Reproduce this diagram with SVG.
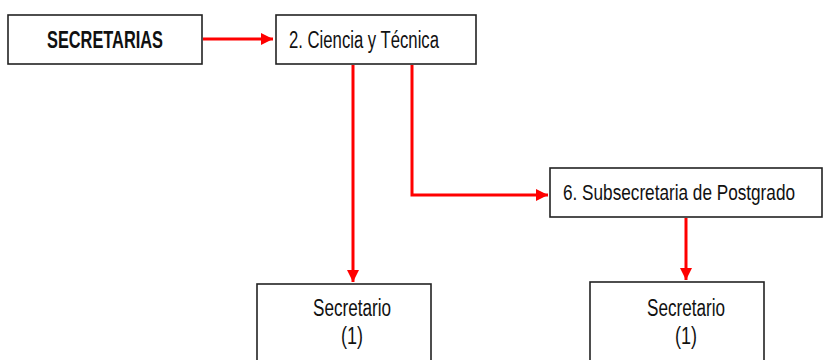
<svg xmlns="http://www.w3.org/2000/svg" width="826" height="360" viewBox="0 0 826 360">
<style>
.box{fill:#fff;stroke:#222;stroke-width:1.6}
.t{font-family:"Liberation Sans Narrow","Liberation Sans",Arial,sans-serif;font-size:23px;fill:#111}
.b{font-weight:bold}
.c{fill:none;stroke:#f00;stroke-width:3}
</style>
<defs>
<marker id="ah" viewBox="0 0 10 10" refX="10" refY="5" markerWidth="4" markerHeight="4" markerUnits="strokeWidth" orient="auto">
<path d="M0,0 L10,5 L0,10 Z" fill="#f00"/>
</marker>
</defs>
<rect width="826" height="360" fill="#fff"/>
<g id="connectors">
<path class="c" d="M203,39 H273" marker-end="url(#ah)"/>
<path class="c" d="M353,65 V282" marker-end="url(#ah)"/>
<path class="c" d="M412,65 V195 H548" marker-end="url(#ah)"/>
<path class="c" d="M686,218 V280" marker-end="url(#ah)"/>
</g>
<g id="secretarias">
<rect class="box" x="8" y="15" width="194" height="49"/>
<text class="t b" x="47" y="48" textLength="116" lengthAdjust="spacingAndGlyphs">SECRETARIAS</text>
</g>
<g id="ciencia">
<rect class="box" x="276" y="15" width="200" height="49"/>
<text class="t" x="289" y="48" textLength="150" lengthAdjust="spacingAndGlyphs">2. Ciencia y Técnica</text>
</g>
<g id="subsecretaria">
<rect class="box" x="550" y="168" width="272" height="49"/>
<text class="t" transform="translate(563,200) scale(1,1.2)" x="0" y="0" style="font-size:19px" textLength="232" lengthAdjust="spacingAndGlyphs">6. Subsecretaria de Postgrado</text>
</g>
<g id="secretario1">
<rect class="box" x="257" y="284" width="174" height="80"/>
<text class="t" x="352" y="316" text-anchor="middle" textLength="78" lengthAdjust="spacingAndGlyphs">Secretario</text>
<text class="t" x="352" y="344" text-anchor="middle" textLength="22" lengthAdjust="spacingAndGlyphs">(1)</text>
</g>
<g id="secretario2">
<rect class="box" x="590" y="282" width="174" height="82"/>
<text class="t" x="686" y="316" text-anchor="middle" textLength="78" lengthAdjust="spacingAndGlyphs">Secretario</text>
<text class="t" x="686" y="344" text-anchor="middle" textLength="22" lengthAdjust="spacingAndGlyphs">(1)</text>
</g>
</svg>
